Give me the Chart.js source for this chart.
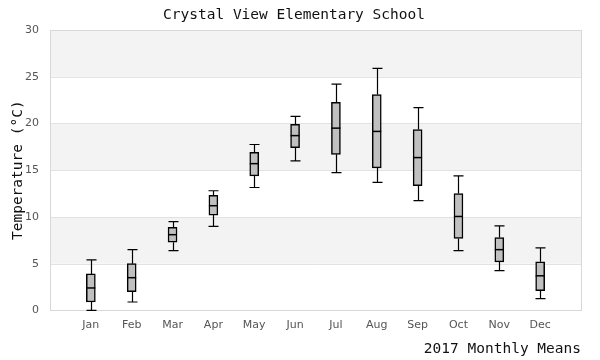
<!DOCTYPE html>
<html>
<head>
<meta charset="utf-8">
<script src="https://cdn.jsdelivr.net/npm/chart.js@4/dist/chart.umd.min.js"></script>
<style>
html,body{margin:0;padding:0;background:#fff;}
#wrap{width:600px;height:360px;}
</style>
</head>
<body>
<div id="wrap"><canvas id="c" width="600" height="360"></canvas></div>
<script>
const chartTitle = 'Crystal View Elementary School';
const months = ['Jan','Feb','Mar','Apr','May','Jun','Jul','Aug','Sep','Oct','Nov','Dec'];
const minVals = [0.0, 0.9, 6.4, 9.0, 13.15, 16.0, 14.75, 13.7, 11.75, 6.4, 4.25, 1.25];
const q1Vals  = [0.9, 2.0, 7.3, 10.2, 14.4, 17.4, 16.7, 15.25, 13.35, 7.7, 5.2, 2.1];
const medVals = [2.4, 3.5, 8.1, 11.2, 15.7, 18.7, 19.5, 19.15, 16.35, 10.05, 6.5, 3.7];
const q3Vals  = [3.9, 5.0, 8.9, 12.3, 16.9, 19.9, 22.25, 23.1, 19.35, 12.5, 7.8, 5.2];
const maxVals = [5.4, 6.5, 9.5, 12.8, 17.75, 20.75, 24.2, 25.9, 21.7, 14.4, 9.05, 6.7];
const yTicks = [0, 5, 10, 15, 20, 25, 30];
const shadedBands = [[5,10],[15,20],[25,30]];

// category labels padded with empty slots at both ends
const labels = [''].concat(months, ['']);
const boxData = [null].concat(months.map((m,i)=>[q1Vals[i], q3Vals[i]]), [null]);

const boxPlugin = {
  id: 'boxExtras',
  beforeDatasetsDraw(chart) {
    const {ctx, chartArea: a, scales: {y}} = chart;
    ctx.save();
    ctx.fillStyle = '#f3f3f3';
    shadedBands.forEach(([lo,hi])=>{
      const yt = y.getPixelForValue(hi), yb = y.getPixelForValue(lo);
      ctx.fillRect(a.left, yt, a.right - a.left, yb - yt);
    });
    ctx.strokeStyle = '#e2e2e2';
    ctx.lineWidth = 1;
    yTicks.forEach(v=>{
      const py = Math.round(y.getPixelForValue(v)) + 0.5;
      ctx.beginPath(); ctx.moveTo(a.left, py); ctx.lineTo(a.right, py); ctx.stroke();
    });
    ctx.strokeStyle = '#d8d8d8';
    ctx.strokeRect(Math.round(a.left)+0.5, Math.round(a.top)+0.5, Math.round(a.right-a.left), Math.round(a.bottom-a.top));
    // whiskers
    const x = chart.scales.x;
    ctx.strokeStyle = '#000';
    ctx.lineWidth = 1.2;
    months.forEach((m,i)=>{
      const px = Math.round(x.getPixelForValue(i+1)) + 0.5;
      const pmin = y.getPixelForValue(minVals[i]), pq1 = y.getPixelForValue(q1Vals[i]);
      const pq3 = y.getPixelForValue(q3Vals[i]), pmax = y.getPixelForValue(maxVals[i]);
      ctx.beginPath();
      ctx.moveTo(px, pmin); ctx.lineTo(px, pq1);
      ctx.moveTo(px, pq3); ctx.lineTo(px, pmax);
      ctx.moveTo(px-5, pmin); ctx.lineTo(px+5, pmin);
      ctx.moveTo(px-5, pmax); ctx.lineTo(px+5, pmax);
      ctx.stroke();
    });
    ctx.restore();
  },
  afterDatasetsDraw(chart) {
    const {ctx, scales: {x, y}} = chart;
    ctx.save();
    ctx.strokeStyle = '#000';
    ctx.lineWidth = 1.5;
    months.forEach((m,i)=>{
      const px = x.getPixelForValue(i+1);
      const pm = y.getPixelForValue(medVals[i]);
      ctx.beginPath(); ctx.moveTo(px-4.5, pm); ctx.lineTo(px+4.5, pm); ctx.stroke();
    });
    ctx.restore();
  },
  afterDraw(chart) {
    const ctx = chart.ctx;
    ctx.save();
    ctx.fillStyle = '#111';
    ctx.font = '14.5px "DejaVu Sans Mono", monospace';
    ctx.textAlign = 'center';
    ctx.textBaseline = 'middle';
    ctx.fillText(chartTitle, 294, 15.5);
    ctx.restore();
  }
};

new Chart(document.getElementById('c'), {
  type: 'bar',
  data: {
    labels: labels,
    datasets: [{
      data: boxData,
      backgroundColor: '#c0c0c0',
      borderColor: '#000',
      borderWidth: 1.5,
      borderSkipped: false,
      barThickness: 9
    }]
  },
  options: {
    responsive: false,
    animation: false,
    devicePixelRatio: 1,
    layout: {padding: {left: 0, right: 19, top: 30, bottom: 2}},
    plugins: {
      legend: {display: false},
      tooltip: {enabled: false},
      title: {display: false}
    },
    scales: {
      x: {
        offset: false,
        grid: {display: false, drawTicks: false},
        border: {display: false},
        ticks: {color: '#555', font: {family: '"DejaVu Sans", sans-serif', size: 11}, padding: 8, maxRotation: 0, autoSkip: false},
        title: {
          display: true, text: '2017 Monthly Means', align: 'end', color: '#111',
          font: {family: '"DejaVu Sans Mono", monospace', size: 14.5}, padding: {top: 1, bottom: 0}
        }
      },
      y: {
        min: 0, max: 30,
        afterBuildTicks(s){ s.ticks = yTicks.map(v=>({value:v})); },
        grid: {display: false, drawTicks: false},
        border: {display: false},
        ticks: {color: '#555', font: {family: '"DejaVu Sans", sans-serif', size: 11}, padding: 11},
        title: {
          display: true, text: 'Temperature (°C)', color: '#111',
          font: {family: '"DejaVu Sans Mono", monospace', size: 14.5}, padding: {top: 9.5, bottom: -12.9}
        }
      }
    }
  },
  plugins: [boxPlugin]
});
</script>
</body>
</html>
